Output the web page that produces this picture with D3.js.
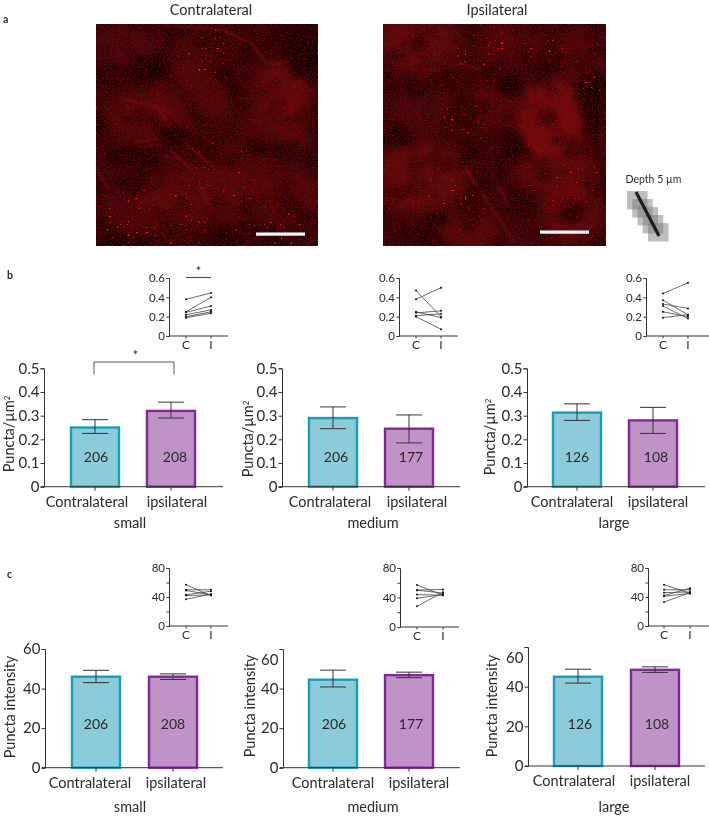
<!DOCTYPE html>
<html><head><meta charset="utf-8">
<script src="https://cdn.jsdelivr.net/npm/d3@7"></script>
<style>
html,body{margin:0;padding:0;background:#fff}
svg{display:block}
text{font-family:Lato,"Open Sans",sans-serif;fill:#2a2a2a}
filter{color-interpolation-filters:sRGB}
</style></head><body>
<script>
const groupLabels=["Contralateral","ipsilateral"];
const sizeNames=["small","medium","large"];
const densityMeans=[[0.25,0.32],[0.29,0.245],[0.313,0.28]];
const densityLow=[[0.225,0.29],[0.245,0.185],[0.28,0.225]];
const densityHigh=[[0.283,0.357],[0.337,0.303],[0.35,0.335]];
const densityN=[[206,208],[206,177],[126,108]];
const intensityMeans=[[46,46],[44.5,46.8],[45,48.5]];
const intensityLow=[[43,44.6],[40.8,45.5],[41.8,47.2]];
const intensityHigh=[[49.2,47.4],[49.3,48.3],[48.8,50]];
const intensityN=[[206,208],[206,177],[126,108]];
const densityPairs=[
 [[.38,.445],[.25,.40],[.245,.31],[.22,.27],[.2,.25],[.19,.235]],
 [[.47,.2],[.38,.5],[.25,.19],[.24,.26],[.21,.23],[.2,.07]],
 [[.44,.55],[.37,.22],[.33,.285],[.31,.18],[.25,.2],[.19,.22]]];
const intensityPairs=[
 [[57,42],[50,50],[49,43],[43,48],[37,44],[42,43]],
 [[28,47],[39,44],[44,43],[50,46],[50,51],[57,43]],
 [[33,46],[41,45],[42,52],[46,47],[50,50],[57,45]]];
const densityTicks=[0,.1,.2,.3,.4,.5];
const intensityTicks=[0,20,40,60];
const densityInsetTicks=[0,.2,.4,.6];
const intensityInsetTicks=[0,40,80];
const intensityInsetMinor=[20,60];
const insetCats=["C","I"];

// layout
const barLayoutB=[
 {ax:44,b1:70,b2:146,end:223,ylx:14,yly:434,nx:[96,175],gx:[87,177],nameX:130,nameY:528,nDy:25,ins:{ax:169,c:186,i:211,end:228,yt:278,y0:336},yt:368.3,y0:486.7},
 {ax:282,b1:308,b2:384,end:460,ylx:253,yly:439,nx:[336,411],gx:[330,417],nameX:373,nameY:528,nDy:25,ins:{ax:399,c:416,i:441,end:458,yt:278,y0:336},yt:368.3,y0:486.7},
 {ax:527,b1:552,b2:628,end:705,ylx:495,yly:437,nx:[577,656],gx:[572,658],nameX:614,nameY:528,nDy:25,ins:{ax:646,c:663,i:688,end:709,yt:278,y0:336},yt:368.3,y0:486.7}];
const barLayoutC=[
 {ax:45,b1:71,b2:148,end:223,ylx:15,yly:707,nx:[96,173],gx:[90,176],nameX:130,nameY:812,nDy:38.7,ins:{ax:169,c:186,i:211,end:228,yt:568,y0:626},yt:649,y0:767.7},
 {ax:283,b1:308,b2:384,end:460,ylx:255,yly:706,nx:[334,411],gx:[333,419],nameX:373,nameY:812,nDy:38.7,ins:{ax:400,c:417,i:443,end:459,yt:568,y0:627},yt:649,y0:767.7},
 {ax:528,b1:553,b2:630,end:705,ylx:497,yly:706,nx:[580,657],gx:[574,660],nameX:614,nameY:812,nDy:37.5,ins:{ax:648,c:664,i:690,end:709,yt:568,y0:626},yt:647,y0:766}];

const svg=d3.create("svg").attr("width",709).attr("height",816).attr("viewBox","0 0 709 816");
document.body.appendChild(svg.node());
const defs=svg.append("defs");
function blurF(id,sd){
  defs.append("filter").attr("id",id).attr("x","-40%").attr("y","-40%").attr("width","180%").attr("height","180%")
    .append("feGaussianBlur").attr("stdDeviation",sd);
}
blurF("blur",6);blurF("blurM",3.5);blurF("blurS",1.3);
function noise(id,freq,seed,matrix,oct,soft){
  const f=defs.append("filter").attr("id",id).attr("x",0).attr("y",0).attr("width","100%").attr("height","100%");
  f.append("feTurbulence").attr("type","fractalNoise").attr("baseFrequency",freq).attr("numOctaves",oct).attr("seed",seed);
  f.append("feColorMatrix").attr("type","matrix").attr("values",matrix);
  if(soft) f.append("feGaussianBlur").attr("stdDeviation",soft);
}
const grain="0 0 0 0 0.58  0 0 0 0 0.04  0 0 0 0 0.06  3.6 0 0 0 -1.55";
const dots="0 0 0 0 1  0 0 0 0 0.13  0 0 0 0 0.15  26 0 0 0 -18.4";
const dark="0 0 0 0 0  0 0 0 0 0  0 0 0 0 0  3.4 0 0 0 -1.6";
noise("g1",0.85,3,grain,2,0);noise("g2",0.85,8,grain,2,0);
noise("d1",0.38,5,dots,1,.3);noise("d2",0.38,11,dots,1,.3);
noise("k1",0.035,2,dark,3);noise("k2",0.04,9,dark,3);

// micrographs (decorative texture; shapes)
const leftCells=[[187,66,28,28,.55],[180,106,35,25,.36],[44,93,35,25,.34],[94,76,40,35,.3],[27,26,30,24,.26],[94,26,30,20,.18],[100,170,60,30,.36],[190,170,34,30,.3],[40,190,36,24,.26],[150,140,30,20,.26]];
const leftDark=[[207,19,22,34],[37,133,30,8],[175,125,24,8],[51,46,20,14],[78,112,16,10],[30,218,30,8],[130,215,20,8]];
const leftFibres=["M24 74 L61 83 L74 103 L94 123 L117 143","M37 119 L71 113","M74 126 L97 146","M104 163 L114 183","M67 1 L127 6 L154 19 L171 39 L197 38","M1 146 L14 166","M50 122 L70 120","M55 130 L85 135"];
const leftClusters=[[60,195,60,30],[175,205,38,20],[110,30,25,25],[130,150,40,30]];
const rightCells=[[35,19,42,30,.5],[102,83,20,20,.38],[165,93,38,38,.78],[35,153,50,36,.5],[188,189,30,28,.55],[85,206,30,20,.42],[125,19,32,18,.32],[198,33,24,26,.3],[172,146,40,24,.46],[40,85,30,22,.22]];
const rightDark=[[208,73,13,30],[12,116,20,8],[35,19,9,7],[102,83,6,6],[165,93,9,8],[188,189,8,8],[130,120,12,18],[125,60,10,6],[55,195,12,8]];
const rightFibres=["M28 46 L58 46 L78 39 L98 46","M132 103 L158 129","M82 143 L108 183 L132 219","M108 149 L128 186"];
const rightClusters=[[100,25,30,18],[165,20,25,14],[205,50,18,18],[60,170,34,22],[185,160,36,20],[75,95,30,16]];

function micro(x,y,w,h,cells,darks,fibres,clusters,g,d,k,bx,by){
  const p=svg.append("g").attr("transform",`translate(${x},${y})`);
  const cid="clip"+g; defs.append("clipPath").attr("id",cid).append("rect").attr("width",w).attr("height",h);
  const mid="mask"+g;
  const m=defs.append("mask").attr("id",mid).attr("maskUnits","userSpaceOnUse").attr("x",0).attr("y",0).attr("width",w).attr("height",h);
  m.append("rect").attr("width",w).attr("height",h).attr("fill","#444");
  m.append("g").attr("filter","url(#blurM)").selectAll("ellipse").data(clusters).join("ellipse")
    .attr("cx",e=>e[0]).attr("cy",e=>e[1]).attr("rx",e=>e[2]).attr("ry",e=>e[3]).attr("fill","#fff");
  const c=p.append("g").attr("clip-path",`url(#${cid})`);
  c.append("rect").attr("width",w).attr("height",h).attr("fill","#2c0405");
  c.append("g").attr("filter","url(#blur)").selectAll("ellipse").data(cells).join("ellipse")
    .attr("cx",e=>e[0]).attr("cy",e=>e[1]).attr("rx",e=>e[2]).attr("ry",e=>e[3]).attr("fill","#7c0d10").attr("opacity",e=>e[4]);
  c.append("g").attr("filter","url(#blurS)").selectAll("path").data(fibres).join("path")
    .attr("d",e=>e).attr("fill","none").attr("stroke","#9a1418").attr("stroke-width",2).attr("opacity",.5);
  c.append("rect").attr("width",w).attr("height",h).attr("filter",`url(#${k})`).attr("opacity",.42);
  c.append("g").attr("filter","url(#blurM)").selectAll("ellipse").data(darks).join("ellipse")
    .attr("cx",e=>e[0]).attr("cy",e=>e[1]).attr("rx",e=>e[2]).attr("ry",e=>e[3]).attr("fill","#080000").attr("opacity",.65);
  c.append("rect").attr("width",w).attr("height",h).attr("filter",`url(#${g})`).attr("opacity",.55);
  c.append("g").attr("mask",`url(#${mid})`).append("rect").attr("width",w).attr("height",h).attr("filter",`url(#${d})`).attr("opacity",.95);
  p.append("rect").attr("x",bx).attr("y",by).attr("width",49).attr("height",3.2).attr("fill","#fff");
}
micro(96,24,222,222,leftCells,leftDark,leftFibres,leftClusters,"g1","d1","k1",160,208.5);
micro(383,24,223,222,rightCells,rightDark,rightFibres,rightClusters,"g2","d2","k2",157,206.5);

svg.append("text").attr("x",211).attr("y",15).attr("text-anchor","middle").attr("font-size",14.5).text("Contralateral");
svg.append("text").attr("x",497).attr("y",15).attr("text-anchor","middle").attr("font-size",14.5).text("Ipsilateral");
[["a",3,23],["b",7,279],["c",7,578]].forEach(([t,x,y])=>svg.append("text").attr("x",x).attr("y",y).attr("font-size",10.5).attr("font-weight",700).attr("font-family","Open Sans,sans-serif").text(t));

// depth icon
svg.append("text").attr("x",653.5).attr("y",183).attr("text-anchor","middle").attr("font-size",10.5).text("Depth 5 µm");
const depthSteps=[0,1,2,3,4];
svg.append("g").selectAll("rect").data(depthSteps).join("rect")
  .attr("x",d=>627+d*5.25).attr("y",d=>191+d*8).attr("width",20.5).attr("height",18.5)
  .attr("fill","#777").attr("opacity",.48);
svg.append("line").attr("x1",636).attr("y1",192).attr("x2",659).attr("y2",236).attr("stroke","#1c1c1c").attr("stroke-width",3.2);

const ink="#333";
function barPanel(L,means,lo,hi,ns,ticks,yMax,fmt,ylab,name,shiftTop){
  const g=svg.append("g");
  const y=d3.scaleLinear().domain([0,yMax]).range([L.y0,L.yt]);
  const bw=50;
  const x=d3.scaleOrdinal().domain([0,1]).range([L.b1,L.b2]);
  const cols=[{f:"#8ccbd9",s:"#149fb7"},{f:"#bf93c8",s:"#83279a"}];
  [0,1].forEach(i=>{
    const bx=x(i);
    g.append("rect").attr("x",bx+1).attr("y",y(means[i])).attr("width",bw-2).attr("height",L.y0-y(means[i]))
      .attr("fill",cols[i].f).attr("stroke",cols[i].s).attr("stroke-width",2.4);
    const cx=bx+bw/2;
    g.append("line").attr("x1",cx).attr("x2",cx).attr("y1",y(lo[i])).attr("y2",y(hi[i])).attr("stroke",ink).attr("stroke-width",1);
    [lo[i],hi[i]].forEach(v=>g.append("line").attr("x1",cx-13).attr("x2",cx+13).attr("y1",y(v)).attr("y2",y(v)).attr("stroke",ink).attr("stroke-width",1));
    g.append("text").attr("x",L.nx[i]).attr("y",L.y0-L.nDy).attr("text-anchor","middle").attr("font-size",14).text(ns[i]);
    g.append("line").attr("x1",cx).attr("x2",cx).attr("y1",L.y0).attr("y2",L.y0+4).attr("stroke",ink);
    g.append("text").attr("x",L.gx[i]).attr("y",L.y0+20).attr("text-anchor","middle").attr("font-size",14.5).text(groupLabels[i]);
  });
  const ax=g.append("g").attr("transform",`translate(${L.ax},0)`)
    .call(d3.axisLeft(y).tickValues(ticks).tickFormat(fmt).tickSize(3.5).tickPadding(1));
  ax.select(".domain").attr("stroke",ink).attr("stroke-width",1);
  ax.selectAll(".tick line").attr("stroke",ink);
  ax.selectAll(".tick text").attr("font-size",15).attr("font-family","Lato,sans-serif").attr("fill","#2a2a2a");
  if(shiftTop) ax.selectAll(".tick").filter(d=>d===yMax).select("text").attr("dy","1.05em");
  g.append("line").attr("x1",L.ax-3).attr("x2",L.end).attr("y1",L.y0).attr("y2",L.y0).attr("stroke",ink);
  g.append("text").attr("transform",`translate(${L.ylx},${L.yly}) rotate(-90)`).attr("text-anchor","middle").attr("font-size",14.5)
    .html(ylab);
  g.append("text").attr("x",L.nameX).attr("y",L.nameY).attr("text-anchor","middle").attr("font-size",14.5).text(name);
}
function insetPanel(I,pairs,ticks,minor,yMax,fmt){
  const g=svg.append("g");
  const y=d3.scaleLinear().domain([0,yMax]).range([I.y0,I.yt]);
  const x=d3.scalePoint().domain(insetCats).range([I.c,I.i]);
  const line=d3.line().x((d,i)=>x(insetCats[i])).y(d=>y(d));
  g.selectAll("path.pair").data(pairs).join("path").attr("class","pair").attr("d",line).attr("fill","none").attr("stroke","#444").attr("stroke-width",.8);
  pairs.forEach(p=>p.forEach((v,i)=>g.append("circle").attr("cx",x(insetCats[i])).attr("cy",y(v)).attr("r",1).attr("fill","#111")));
  const ax=g.append("g").attr("transform",`translate(${I.ax},0)`)
    .call(d3.axisLeft(y).tickValues(ticks.concat(minor)).tickFormat(d=>ticks.includes(d)?fmt(d):"").tickSize(2.5).tickPadding(1.5));
  ax.select(".domain").attr("stroke",ink);
  ax.selectAll(".tick line").attr("stroke",ink);
  ax.selectAll(".tick text").attr("font-size",11.5).attr("font-family","Lato,sans-serif").attr("fill","#2a2a2a");
  g.append("line").attr("x1",I.ax).attr("x2",I.end).attr("y1",I.y0).attr("y2",I.y0).attr("stroke",ink);
  insetCats.forEach(c=>{
    g.append("line").attr("x1",x(c)).attr("x2",x(c)).attr("y1",I.y0).attr("y2",I.y0+2.5).attr("stroke",ink);
    g.append("text").attr("x",x(c)).attr("y",I.y0+13).attr("text-anchor","middle").attr("font-size",12).text(c);
  });
}
const fmtD=d=>d===0?"0":d3.format(".1f")(d);
const fmtI=d=>String(d);
const ylabD='Puncta/µm<tspan dy="-4" font-size="8">2</tspan>';
sizeNames.forEach((n,k)=>{
  barPanel(barLayoutB[k],densityMeans[k],densityLow[k],densityHigh[k],densityN[k],densityTicks,.5,fmtD,ylabD,n,false);
  insetPanel(barLayoutB[k].ins,densityPairs[k],densityInsetTicks,[],.6,fmtD);
  barPanel(barLayoutC[k],intensityMeans[k],intensityLow[k],intensityHigh[k],intensityN[k],intensityTicks,60,fmtI,"Puncta intensity",n,k>0);
  insetPanel(barLayoutC[k].ins,intensityPairs[k],intensityInsetTicks,intensityInsetMinor,80,fmtI);
});
// significance brackets
const sg=svg.append("g");
sg.append("path").attr("d",d3.line()([[94,374.5],[94,362],[174,362],[174,374.5]])).attr("fill","none").attr("stroke","#555").attr("stroke-width",1);
sg.append("text").attr("x",135.5).attr("y",360).attr("text-anchor","middle").attr("font-size",13).text("*");
sg.append("line").attr("x1",186).attr("x2",211).attr("y1",277.5).attr("y2",277.5).attr("stroke","#555").attr("stroke-width",1.2);
sg.append("text").attr("x",198.5).attr("y",276).attr("text-anchor","middle").attr("font-size",13).text("*");
</script>
</body></html>
